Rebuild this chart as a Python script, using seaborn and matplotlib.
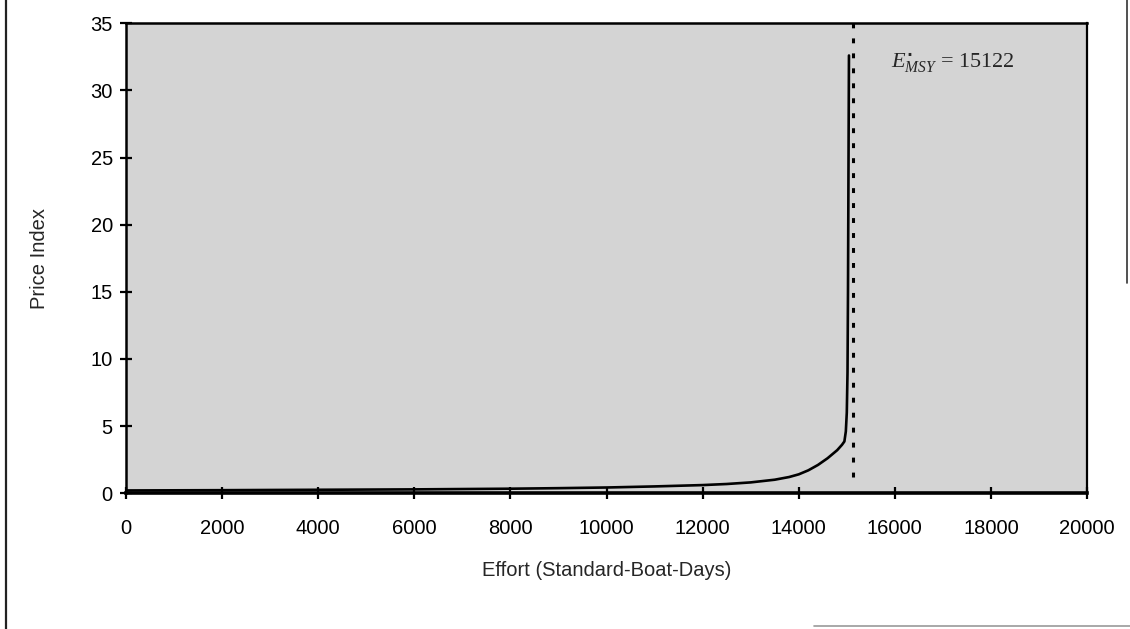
import matplotlib
matplotlib.use("Agg")
import matplotlib.pyplot as plt
from matplotlib.lines import Line2D
import seaborn as sns
import pandas as pd

# Price index against fishing effort
effort = [0, 2000, 4000, 6000, 8000, 9000, 10000, 11000, 12000, 12500, 13000,
          13500, 13800, 14000, 14200, 14400, 14600, 14800, 14900, 14950, 14980,
          15000, 15015, 15025, 15035, 15045]
price = [0.20, 0.22, 0.25, 0.28, 0.33, 0.37, 0.42, 0.50, 0.60, 0.68, 0.80,
         1.00, 1.20, 1.40, 1.70, 2.10, 2.60, 3.20, 3.60, 3.85, 4.60,
         6.00, 9.00, 15.0, 24.0, 32.6]

e_msy = 15122
x_ticks = [0, 2000, 4000, 6000, 8000, 10000, 12000, 14000, 16000, 18000, 20000]
y_ticks = [0, 5, 10, 15, 20, 25, 30, 35]

df = pd.DataFrame({"Effort": effort, "Price": price})

sns.set_style("ticks")
plt.rcParams["font.family"] = ["Liberation Sans", "DejaVu Sans"]
plt.rcParams["mathtext.fontset"] = "custom"
plt.rcParams["mathtext.rm"] = "Liberation Serif"
plt.rcParams["mathtext.it"] = "Liberation Serif:italic"

fig = plt.figure(figsize=(11.30, 6.29), dpi=100)
ax = fig.add_axes([0.1115, 0.216, 0.8505, 0.747])
ax.set_facecolor("#d4d4d4")

sns.lineplot(data=df, x="Effort", y="Price", ax=ax, color="black",
             linewidth=1.9, estimator=None, sort=False, zorder=3)

ax.vlines(e_msy, 1.2, 35, colors="black", linewidth=2.2,
          linestyles=(0, (1.6, 3.3)), zorder=2)
ax.text(15910, 32.0, r"$E^{\mathbf{\bullet}}_{MSY}$ = 15122", fontsize=16,
        family="Liberation Serif", va="center", ha="left")

ax.set_xlim(0, 20000)
ax.set_ylim(0, 35)
ax.set_xticks(x_ticks)
ax.set_yticks(y_ticks)
ax.tick_params(axis="both", direction="inout", length=9, width=1.6,
               labelsize=14.5, colors="black")
ax.tick_params(axis="x", pad=14)
ax.tick_params(axis="y", pad=5)

ax.set_xlabel("Effort (Standard-Boat-Days)", fontsize=14.5, labelpad=17)
ax.set_ylabel("Price Index", fontsize=14.5, labelpad=30)

for side, lw in [("left", 1.8), ("bottom", 2.6), ("top", 1.8), ("right", 1.6)]:
    ax.spines[side].set_visible(True)
    ax.spines[side].set_linewidth(lw)
    ax.spines[side].set_color("black")

# page frame edges
fig.add_artist(Line2D([0.005, 0.005], [0.0, 1.0], transform=fig.transFigure,
                      color="#222222", linewidth=1.6))
fig.add_artist(Line2D([0.9975, 0.9975], [0.55, 1.0], transform=fig.transFigure,
                      color="#333333", linewidth=1.2))
fig.add_artist(Line2D([0.72, 1.0], [0.004, 0.004], transform=fig.transFigure,
                      color="#999999", linewidth=1.2))

fig.savefig("out.png", dpi=100, facecolor="white")
